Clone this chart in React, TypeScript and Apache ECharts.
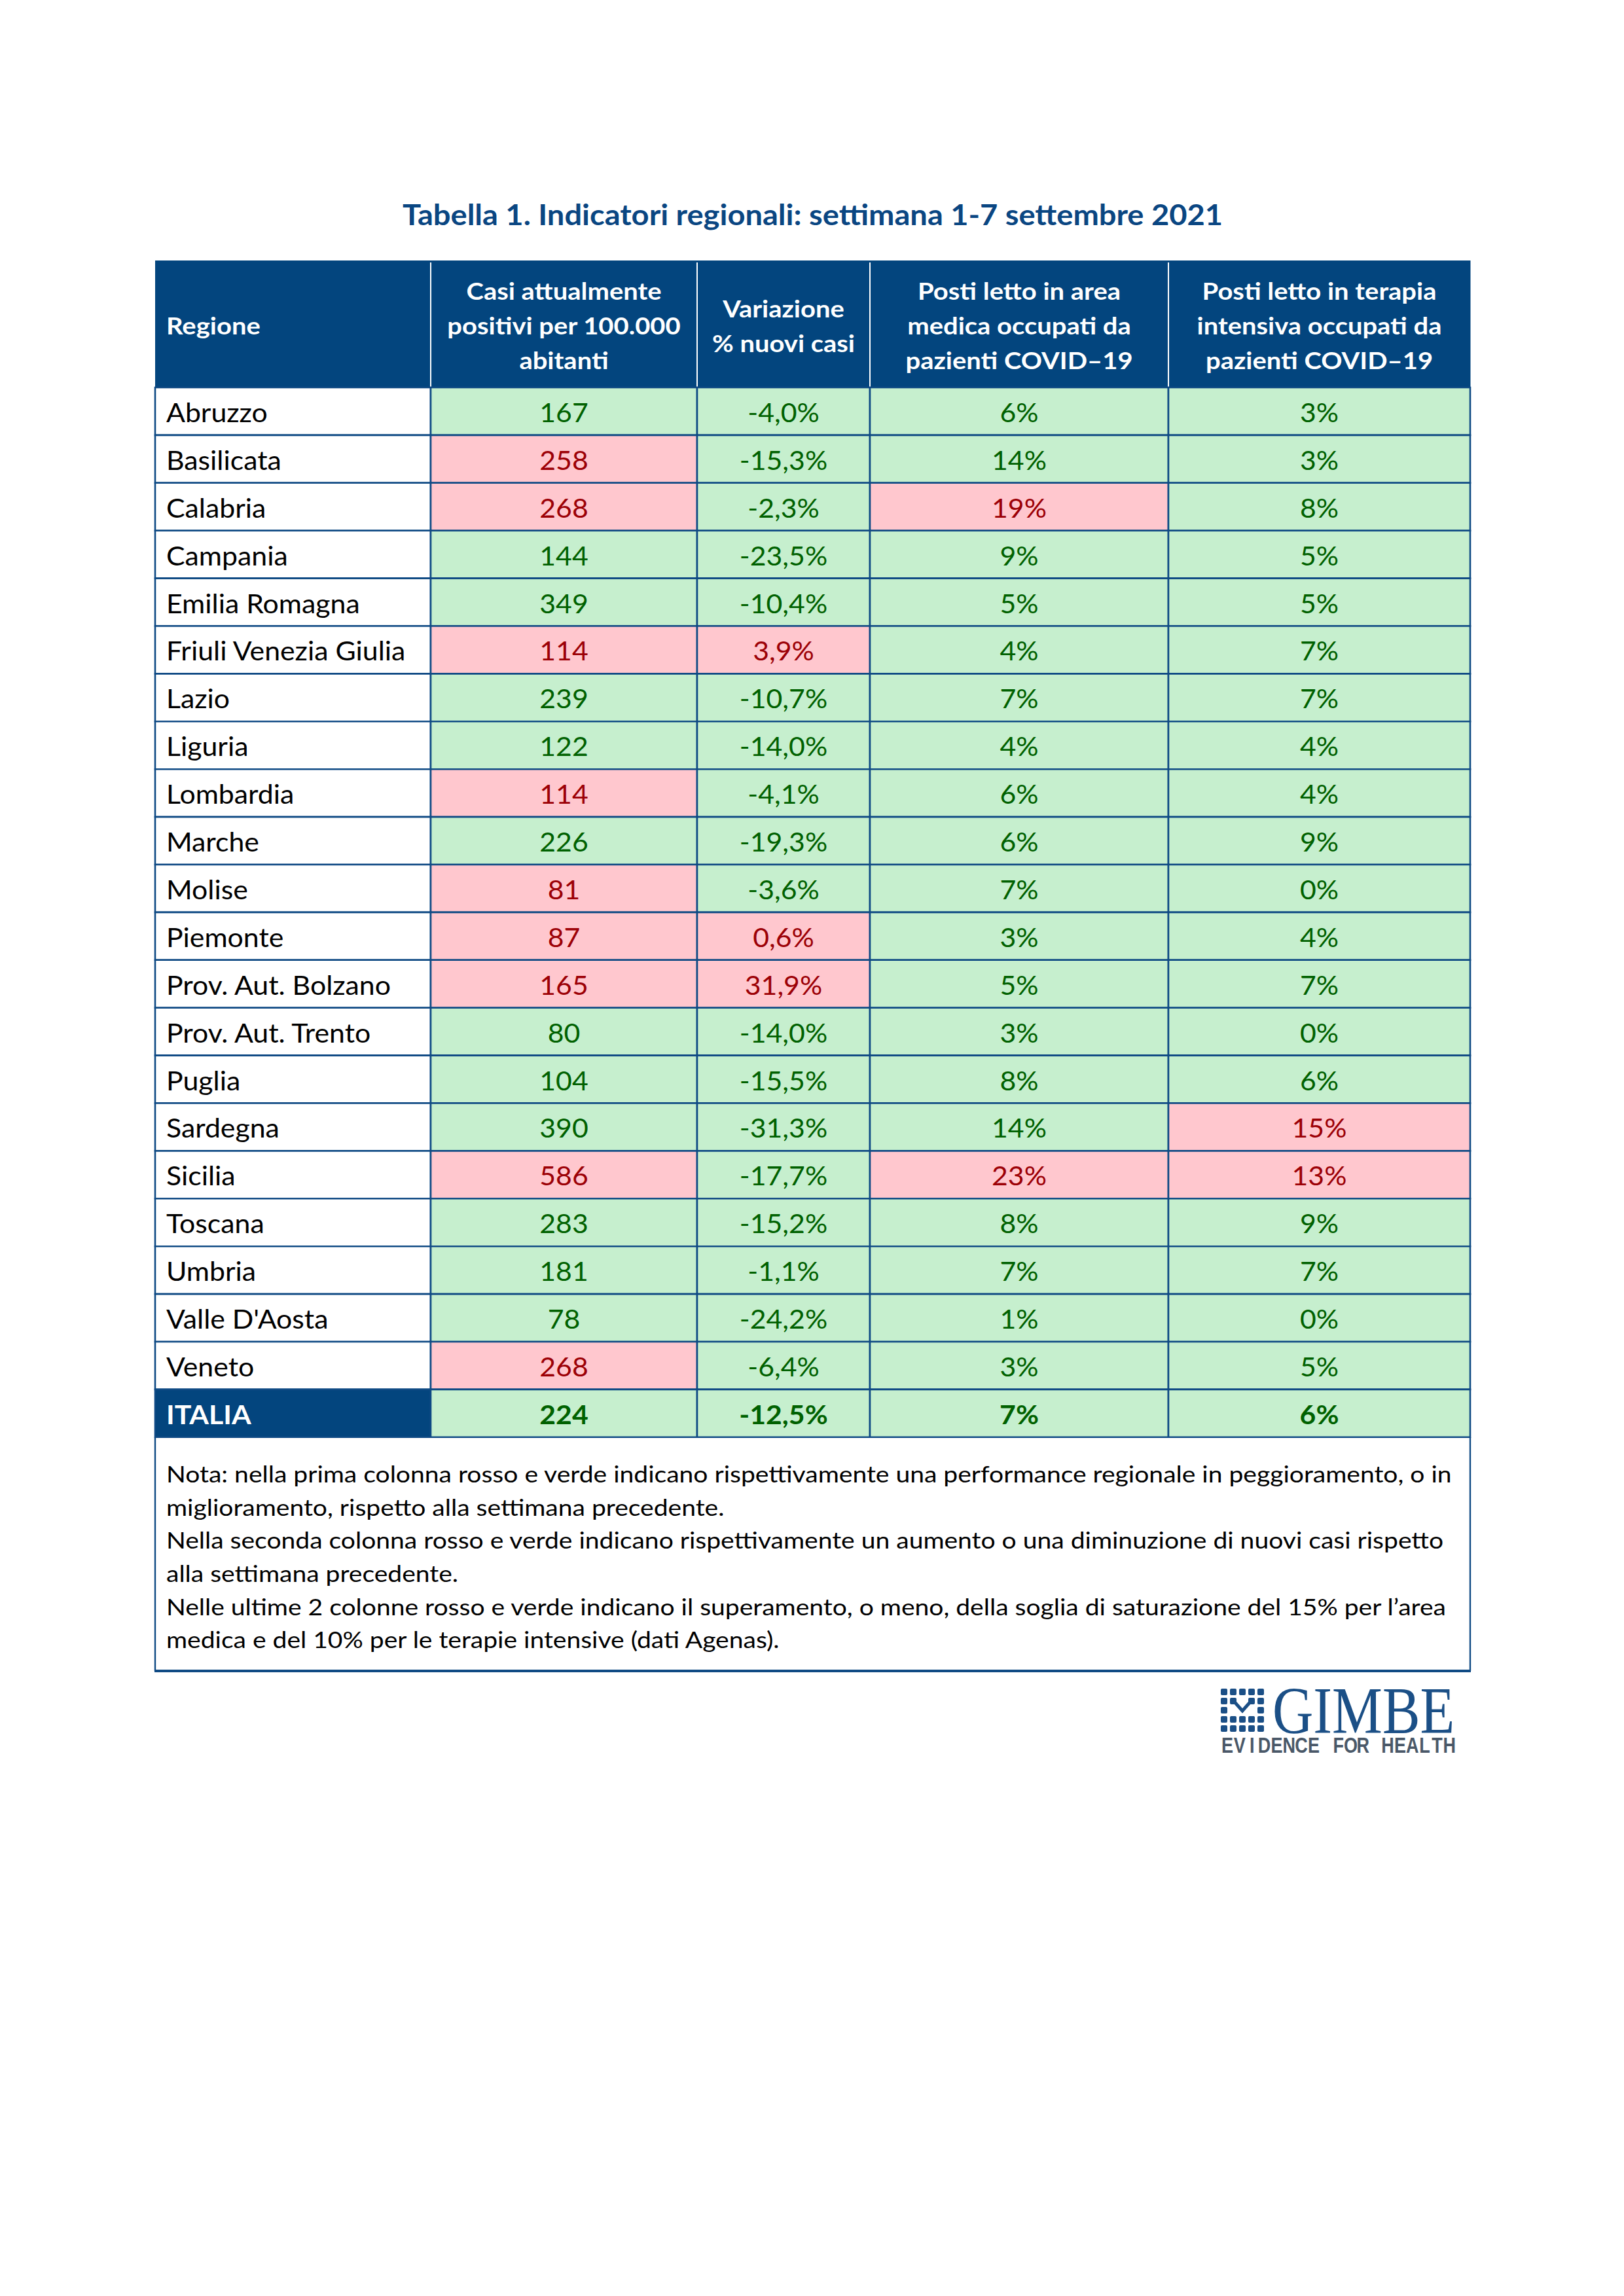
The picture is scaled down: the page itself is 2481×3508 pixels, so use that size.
import React, { useEffect, useRef } from "react";
import * as echarts from "echarts";

// ---------- DATA ----------
const regions = [
  "Abruzzo", "Basilicata", "Calabria", "Campania", "Emilia Romagna",
  "Friuli Venezia Giulia", "Lazio", "Liguria", "Lombardia", "Marche",
  "Molise", "Piemonte", "Prov. Aut. Bolzano", "Prov. Aut. Trento", "Puglia",
  "Sardegna", "Sicilia", "Toscana", "Umbria", "Valle D'Aosta", "Veneto", "ITALIA",
];
const casiPer100k = [167, 258, 268, 144, 349, 114, 239, 122, 114, 226, 81, 87, 165, 80, 104, 390, 586, 283, 181, 78, 268, 224];
// performance in peggioramento (rosso) nella prima colonna
const casiPeggioramento = [false, true, true, false, false, true, false, false, true, false, true, true, true, false, false, false, true, false, false, false, true, false];
const variazioneNuoviCasi = [-4.0, -15.3, -2.3, -23.5, -10.4, 3.9, -10.7, -14.0, -4.1, -19.3, -3.6, 0.6, 31.9, -14.0, -15.5, -31.3, -17.7, -15.2, -1.1, -24.2, -6.4, -12.5];
const areaMedica = [6, 14, 19, 9, 5, 4, 7, 4, 6, 6, 7, 3, 5, 3, 8, 14, 23, 8, 7, 1, 3, 7];
const terapiaIntensiva = [3, 3, 8, 5, 5, 7, 7, 4, 4, 9, 0, 4, 7, 0, 6, 15, 13, 9, 7, 0, 5, 6];
const sogliaAreaMedica = 15;
const sogliaTerapiaIntensiva = 10;
const headers = [
  "Regione",
  "Casi attualmente\npositivi per 100.000\nabitanti",
  "Variazione\n% nuovi casi",
  "Posti letto in area\nmedica occupati da\npazienti COVID\u201319",
  "Posti letto in terapia\nintensiva occupati da\npazienti COVID\u201319",
];
const titleText = "Tabella 1. Indicatori regionali: settimana 1-7 settembre 2021";
const noteLines = [
  "Nota: nella prima colonna rosso e verde indicano rispettivamente una performance regionale in peggioramento, o in",
  "miglioramento, rispetto alla settimana precedente.",
  "Nella seconda colonna rosso e verde indicano rispettivamente un aumento o una diminuzione di nuovi casi rispetto",
  "alla settimana precedente.",
  "Nelle ultime 2 colonne rosso e verde indicano il superamento, o meno, della soglia di saturazione del 15% per l\u2019area",
  "medica e del 10% per le terapie intensive (dati Agenas).",
];

// ---------- LAYOUT / STYLE ----------
const COL_EDGES = [0, 421, 828, 1092, 1548, 2009];
const TABLE_LEFT = 237;
const TABLE_W = 2009;
const HEADER_TOP = 398;
const HEADER_H = 194;
const BODY_TOP = 592;
const ROW_H = 72.9;
const BLUE = "#03457E";
const LINE = "#0F4A84";
const GREEN_BG = "#C6EFCE";
const GREEN_TX = "#006100";
const RED_BG = "#FFC7CE";
const RED_TX = "#9C0006";
const FONT = "Lato";
const BODY_SIZE = 40;
const BODY_SX = 1.07;

const fmtVar = (v: number) => v.toFixed(1).replace(".", ",") + "%";

function cellInfo(r: number, c: number) {
  const isTot = regions[r] === "ITALIA";
  if (c === 0) {
    return {
      text: regions[r],
      bg: isTot ? BLUE : "#FFFFFF",
      fg: isTot ? "#FFFFFF" : "#000000",
      bold: isTot,
    };
  }
  let bad = false;
  let text = "";
  if (c === 1) { bad = casiPeggioramento[r]; text = String(casiPer100k[r]); }
  if (c === 2) { bad = variazioneNuoviCasi[r] > 0; text = fmtVar(variazioneNuoviCasi[r]); }
  if (c === 3) { bad = areaMedica[r] > sogliaAreaMedica; text = areaMedica[r] + "%"; }
  if (c === 4) { bad = terapiaIntensiva[r] > sogliaTerapiaIntensiva; text = terapiaIntensiva[r] + "%"; }
  return { text, bg: bad ? RED_BG : GREEN_BG, fg: bad ? RED_TX : GREEN_TX, bold: isTot };
}

const bodyData: number[][] = [];
regions.forEach((_, r) => {
  for (let c = 0; c < 5; c++) bodyData.push([c, r]);
});
const headerData = headers.map((_, c) => [c, 0]);

function renderBody(params: any, api: any) {
  const c = api.value(0);
  const r = api.value(1);
  const p0 = api.coord([COL_EDGES[c], r]);
  const p1 = api.coord([COL_EDGES[c + 1], r]);
  const h = api.size([0, 1])[1];
  const x = p0[0];
  const w = p1[0] - p0[0];
  const y = p0[1] - h / 2;
  const info = cellInfo(r, c);
  return {
    type: "group",
    children: [
      {
        type: "rect",
        shape: { x, y, width: w, height: h },
        style: { fill: info.bg, stroke: LINE, lineWidth: 2.6 },
      },
      {
        type: "text",
        x: c === 0 ? x + 17 : x + w / 2,
        y: y + h / 2 + 1,
        scaleX: BODY_SX,
        style: {
          text: info.text,
          fill: info.fg,
          fontFamily: FONT,
          fontSize: BODY_SIZE,
          fontWeight: info.bold ? "bold" : "normal",
          align: c === 0 ? "left" : "center",
          verticalAlign: "middle",
        },
      },
    ],
  };
}

function renderHeader(params: any, api: any) {
  const c = api.value(0);
  const p0 = api.coord([COL_EDGES[c], 0]);
  const p1 = api.coord([COL_EDGES[c + 1], 0]);
  const h = api.size([0, 1])[1];
  const x = p0[0];
  const w = p1[0] - p0[0];
  const y = p0[1] - h / 2;
  const children: any[] = [
    { type: "rect", shape: { x, y, width: w + 0.5, height: h }, style: { fill: BLUE } },
    {
      type: "text",
      x: c === 0 ? x + 17 : x + w / 2,
      y: y + h / 2 + 2,
      scaleX: 1.08,
      style: {
        text: headers[c],
        fill: "#FFFFFF",
        fontFamily: FONT,
        fontSize: 37,
        fontWeight: "bold",
        lineHeight: 53,
        align: c === 0 ? "left" : "center",
        verticalAlign: "middle",
      },
    },
  ];
  if (c > 0) {
    children.push({
      type: "line",
      shape: { x1: x, y1: y + 3, x2: x, y2: y + h },
      style: { stroke: "#FFFFFF", lineWidth: 2 },
    });
  }
  return { type: "group", children };
}

function buildLogo() {
  const children: any[] = [];
  const x0 = 1865;
  const y0 = 2580;
  const pitch = 14;
  const sz = 10;
  const skip = new Set(["1-2", "2-1", "2-2", "2-3"]);
  for (let row = 0; row < 5; row++) {
    for (let col = 0; col < 5; col++) {
      if (skip.has(`${row}-${col}`)) continue;
      children.push({
        type: "rect",
        shape: { x: x0 + col * pitch, y: y0 + row * pitch, width: sz, height: sz, r: 2 },
        style: { fill: "#1B4F86" },
      });
    }
  }
  children.push({
    type: "polyline",
    shape: {
      points: [
        [x0 + 1 * pitch + 4, y0 + 1 * pitch + 3],
        [x0 + 2 * pitch + 5, y0 + 2 * pitch + 6],
        [x0 + 3 * pitch + 6, y0 + 1 * pitch + 3],
      ],
    },
    style: { stroke: "#1B4F86", lineWidth: 5, fill: null },
  });
  children.push({
    type: "text",
    x: 1944,
    y: 2614,
    scaleX: 0.855,
    style: {
      text: "GIMBE",
      fill: "#1B4F86",
      fontFamily: "Liberation Serif",
      fontSize: 101,
      align: "left",
      verticalAlign: "middle",
    },
  });
  const tag = "EVIDENCE FOR HEALTH";
  for (let i = 0; i < tag.length; i++) {
    if (tag[i] === " ") continue;
    children.push({
      type: "text",
      x: 1866 + 9 + i * 18.85,
      y: 2667,
      scaleX: 0.82,
      style: {
        text: tag[i],
        fill: "#4A5868",
        fontFamily: "Liberation Sans",
        fontSize: 33,
        fontWeight: "bold",
        align: "center",
        verticalAlign: "middle",
      },
    });
  }
  return { type: "group", children };
}

export default function App() {
  const ref = useRef<HTMLDivElement>(null);
  useEffect(() => {
    document.body.style.margin = "0";
    const chart = echarts.init(ref.current!, null, { renderer: "svg" });
    const noteTop = BODY_TOP + ROW_H * regions.length;
    const noteBottom = 2553;
    const option: any = {
      animation: false,
      backgroundColor: "#FFFFFF",
      grid: [
        { left: TABLE_LEFT, top: HEADER_TOP, width: TABLE_W, height: HEADER_H, containLabel: false },
        { left: TABLE_LEFT, top: BODY_TOP, width: TABLE_W, height: ROW_H * regions.length, containLabel: false },
      ],
      xAxis: [
        { type: "value", gridIndex: 0, min: 0, max: COL_EDGES[COL_EDGES.length - 1], show: false },
        { type: "value", gridIndex: 1, min: 0, max: COL_EDGES[COL_EDGES.length - 1], show: false },
      ],
      yAxis: [
        { type: "category", gridIndex: 0, data: ["header"], inverse: true, show: false },
        { type: "category", gridIndex: 1, data: regions, inverse: true, show: false },
      ],
      series: [
        {
          type: "custom",
          xAxisIndex: 0,
          yAxisIndex: 0,
          data: headerData,
          renderItem: renderHeader,
          clip: false,
          silent: true,
        },
        {
          type: "custom",
          xAxisIndex: 1,
          yAxisIndex: 1,
          data: bodyData,
          renderItem: renderBody,
          clip: false,
          silent: true,
        },
      ],
      graphic: [
        {
          type: "text",
          x: TABLE_LEFT + TABLE_W / 2,
          y: 327,
          scaleX: 1.07,
          style: {
            text: titleText,
            fill: "#0A4682",
            fontFamily: FONT,
            fontSize: 44,
            fontWeight: "bold",
            align: "center",
            verticalAlign: "middle",
          },
        },
        {
          type: "line",
          shape: { x1: TABLE_LEFT, y1: noteTop, x2: TABLE_LEFT, y2: noteBottom },
          style: { stroke: LINE, lineWidth: 2.4 },
        },
        {
          type: "line",
          shape: { x1: TABLE_LEFT + TABLE_W, y1: noteTop, x2: TABLE_LEFT + TABLE_W, y2: noteBottom },
          style: { stroke: LINE, lineWidth: 2.4 },
        },
        {
          type: "line",
          shape: { x1: TABLE_LEFT - 1, y1: noteBottom, x2: TABLE_LEFT + TABLE_W + 1, y2: noteBottom },
          style: { stroke: LINE, lineWidth: 4 },
        },
        {
          type: "text",
          x: 254,
          y: 2378,
          scaleX: 1.1,
          style: {
            text: noteLines.join("\n"),
            fill: "#000000",
            fontFamily: FONT,
            fontSize: 35.5,
            lineHeight: 50.6,
            align: "left",
            verticalAlign: "middle",
          },
        },
        buildLogo(),
      ],
    };
    chart.setOption(option);
    return () => chart.dispose();
  }, []);
  return <div ref={ref} style={{ width: 2481, height: 3508, overflow: "hidden" }} />;
}
